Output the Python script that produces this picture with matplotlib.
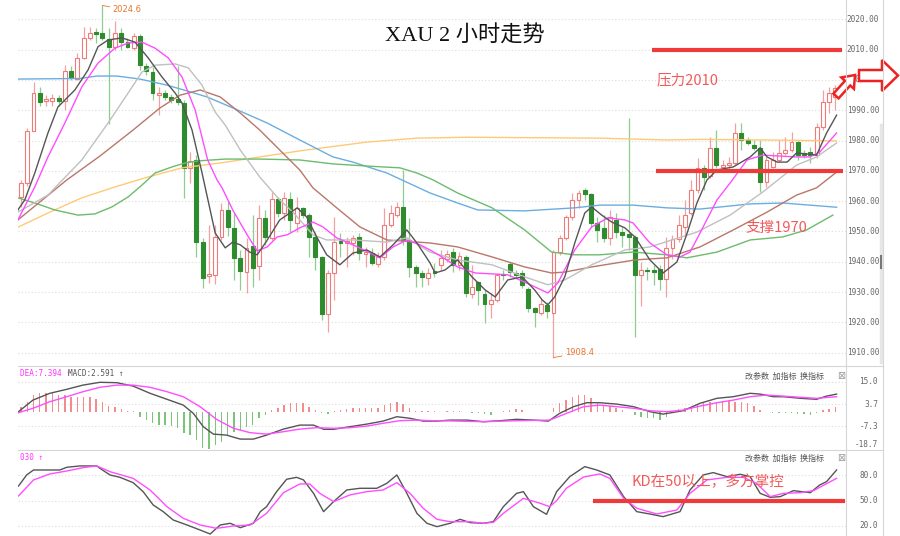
import matplotlib
matplotlib.use("Agg")
import matplotlib.pyplot as plt
from matplotlib.patches import FancyArrow
import numpy as np

plt.rcParams['font.family'] = ['DejaVu Sans', 'Noto Sans CJK SC']

# 2 hour candles
opens = [1961.4, 1966.0, 1983.2, 1995.7, 1993.0, 1993.2, 1994.0, 1993.1, 2003.0, 2000.3,
         2007.3, 2013.9, 2015.8, 2015.5, 2013.5, 2010.9, 2015.5, 2012.5, 2010.6, 2014.5,
         2004.6, 2002.6, 1995.1, 1995.7, 1994.4, 1993.7, 1992.4, 1971.0, 1973.6, 1946.5,
         1935.3, 1935.6, 1948.2, 1957.1, 1951.2, 1941.3, 1936.6, 1945.2, 1938.6, 1954.5,
         1947.9, 1960.7, 1956.1, 1960.7, 1952.8, 1957.8, 1955.4, 1948.2, 1941.6, 1922.8,
         1936.3, 1946.9, 1946.2, 1946.2, 1948.2, 1942.6, 1942.9, 1939.3, 1941.6, 1952.2,
         1955.4, 1958.1, 1947.2, 1938.3, 1936.3, 1934.7, 1937.0, 1939.0, 1941.0, 1943.2,
         1938.9, 1941.6, 1929.4, 1933.3, 1929.4, 1926.1, 1927.4, 1936.0, 1939.3, 1936.3,
         1936.3, 1931.0, 1924.8, 1923.1, 1925.8, 1923.1, 1943.3, 1947.9, 1954.8, 1960.4,
         1963.7, 1962.4, 1952.8, 1951.1, 1947.9, 1953.8, 1949.8, 1949.2, 1948.2, 1935.7,
         1937.3, 1937.3, 1937.6, 1934.4, 1944.6, 1947.6, 1951.5, 1956.1, 1963.7, 1970.9,
         1968.4, 1977.5, 1971.4, 1972.0, 1972.5, 1982.4, 1980.2, 1978.5, 1977.5, 1966.4,
         1971.4, 1973.6, 1976.0, 1976.9, 1979.6, 1976.0, 1976.3, 1975.2, 1984.6, 1992.8,
         1994.5]
highs = [1967.0, 1984.0, 1999.3, 1997.7, 1995.0, 1995.5, 1995.0, 2005.0, 2004.6, 2008.9,
         2017.5, 2017.5, 2017.2, 2024.6, 2017.2, 2019.5, 2017.2, 2013.9, 2015.5, 2015.2,
         2005.6, 2004.3, 1997.7, 1996.7, 1995.5, 2004.6, 1993.4, 1976.2, 1975.2, 1947.9,
         1952.2, 1952.2, 1959.4, 1960.1, 1956.1, 1943.9, 1947.9, 1955.4, 1958.7, 1957.1,
         1963.0, 1961.4, 1963.0, 1963.0, 1961.4, 1958.1, 1956.1, 1949.8, 1941.9, 1937.3,
         1954.8, 1949.5, 1948.2, 1948.9, 1949.5, 1944.9, 1944.6, 1943.2, 1957.8, 1958.7,
         1959.7, 1970.3, 1954.5, 1939.0, 1937.3, 1938.0, 1939.6, 1943.9, 1943.9, 1944.6,
         1943.2, 1942.3, 1938.9, 1933.7, 1930.7, 1929.7, 1936.3, 1937.3, 1939.9, 1937.3,
         1937.3, 1931.7, 1925.1, 1928.1, 1926.7, 1944.0, 1948.9, 1955.4, 1962.7, 1963.7,
         1964.4, 1962.7, 1954.8, 1955.4, 1957.1, 1956.1, 1951.5, 1987.4, 1948.9, 1939.9,
         1938.3, 1939.0, 1938.9, 1948.3, 1948.9, 1955.4, 1960.4, 1967.0, 1974.3, 1972.0,
         1981.3, 1983.5, 1973.6, 1974.6, 1985.9, 1985.7, 1981.2, 1980.2, 1980.2, 1974.7,
         1976.3, 1980.2, 1981.3, 1982.9, 1980.0, 1976.9, 1978.0, 1985.7, 1996.7, 1997.8,
         1998.5]
lows = [1958.0, 1965.0, 1983.0, 1991.4, 1991.5, 1991.5, 1991.5, 1990.1, 2000.0, 2000.0,
        2006.9, 2013.2, 2012.2, 2013.2, 1985.5, 2009.9, 2009.9, 2010.6, 2009.9, 2003.3,
        2001.7, 1993.4, 1988.4, 1993.4, 1992.4, 1991.7, 1961.1, 1966.0, 1941.6, 1931.4,
        1933.0, 1932.7, 1947.2, 1948.5, 1934.0, 1930.7, 1929.7, 1931.7, 1934.0, 1945.6,
        1947.2, 1954.8, 1953.8, 1949.8, 1949.8, 1954.5, 1941.6, 1937.3, 1920.8, 1916.8,
        1927.4, 1941.6, 1938.3, 1942.3, 1940.6, 1938.3, 1938.9, 1938.3, 1940.6, 1951.5,
        1954.8, 1945.6, 1935.0, 1931.7, 1931.7, 1932.4, 1935.0, 1937.3, 1939.9, 1936.6,
        1937.3, 1928.4, 1928.1, 1925.8, 1919.8, 1921.5, 1926.7, 1934.0, 1935.0, 1934.7,
        1931.4, 1923.4, 1918.5, 1922.4, 1921.5, 1908.4, 1942.3, 1947.2, 1953.8, 1957.8,
        1960.4, 1951.5, 1946.5, 1946.5, 1945.6, 1947.9, 1944.9, 1943.9, 1915.2, 1925.4,
        1934.0, 1932.4, 1930.7, 1928.5, 1941.0, 1946.5, 1949.0, 1955.4, 1962.7, 1963.7,
        1967.5, 1970.9, 1969.6, 1971.0, 1972.0, 1976.9, 1978.5, 1976.9, 1963.1, 1964.8,
        1970.9, 1972.9, 1975.2, 1976.2, 1973.6, 1974.3, 1972.5, 1974.1, 1983.5, 1989.0,
        1990.0]
closes = [1966.0, 1983.2, 1995.7, 1992.7, 1993.6, 1994.0, 1993.0, 2003.0, 2000.7, 2007.3,
          2013.9, 2015.5, 2015.2, 2013.9, 2010.9, 2015.5, 2012.5, 2010.9, 2014.5, 2004.9,
          2003.0, 1995.7, 1995.7, 1994.4, 1993.4, 1992.7, 1971.0, 1973.3, 1946.5, 1934.7,
          1936.0, 1948.2, 1957.1, 1951.5, 1941.3, 1937.0, 1944.6, 1938.0, 1954.5, 1948.2,
          1960.7, 1956.1, 1961.1, 1953.8, 1957.8, 1955.4, 1948.2, 1941.6, 1922.8, 1936.3,
          1946.5, 1946.2, 1946.9, 1947.9, 1942.9, 1943.3, 1939.6, 1941.6, 1952.2, 1956.1,
          1958.1, 1947.2, 1938.3, 1936.3, 1935.0, 1936.3, 1936.3, 1941.3, 1942.6, 1938.9,
          1941.9, 1929.7, 1931.7, 1930.7, 1926.1, 1927.4, 1935.7, 1935.7, 1936.6, 1935.7,
          1932.4, 1924.8, 1923.4, 1926.1, 1923.8, 1943.3, 1947.9, 1954.8, 1960.4, 1962.7,
          1962.4, 1952.8, 1950.5, 1947.9, 1954.8, 1949.8, 1948.9, 1948.2, 1935.7, 1937.3,
          1936.9, 1936.6, 1934.4, 1944.6, 1947.6, 1952.2, 1955.4, 1963.7, 1970.9, 1968.1,
          1977.5, 1972.0, 1972.0, 1972.5, 1982.4, 1980.2, 1979.1, 1977.5, 1966.4, 1973.6,
          1973.6, 1976.0, 1976.9, 1979.6, 1975.2, 1975.2, 1975.2, 1984.6, 1992.8, 1995.6,
          1997.2]

# moving averages (bar number, price)
ma5_x = [-0.5, 0.6, 2.2, 4.3, 5.9, 8.6, 10.7, 12.3, 13.9, 16.1, 18.2, 20.3, 22.5, 24.6, 25.7,
         27.3, 28.9, 31.0, 32.6, 33.8, 35.0, 36.5, 37.7, 39.1, 41.3, 44.1, 45.6, 47.2, 48.8, 50.9,
         53.0, 55.2, 57.3, 59.4, 61.6, 63.2, 65.3, 66.1, 67.7, 69.7, 72.0, 74.1, 75.7, 77.7, 80.0,
         82.0, 83.2, 84.1, 85.2, 86.8, 88.4, 90.0, 91.1, 92.7, 94.3, 96.4, 98.0, 100.4, 102.5, 104.7,
         106.3, 107.9, 109.5, 111.1, 113.7, 116.4, 118.0, 119.1, 120.7, 122.3, 123.8, 125.4, 127.0, 128.6, 130.2]
ma5_y = [1957.1, 1960.4, 1969.3, 1982.5, 1991.1, 1996.7, 2003.3, 2011.0, 2013.2, 2013.9, 2012.5, 2007.3, 2001.0, 1995.7, 1992.4,
         1983.5, 1969.3, 1949.5, 1944.6, 1946.5, 1945.6, 1943.2, 1942.3, 1946.5, 1953.8, 1957.8, 1954.8, 1948.2, 1942.3, 1939.0,
         1942.9, 1943.9, 1941.6, 1945.6, 1950.5, 1946.2, 1939.6, 1936.3, 1937.3, 1940.6, 1935.0, 1930.7, 1928.4, 1934.0, 1935.0,
         1930.7, 1927.4, 1925.8, 1928.4, 1935.0, 1946.2, 1956.1, 1958.1, 1955.4, 1953.1, 1951.2, 1948.2, 1940.6, 1936.3, 1939.9,
         1949.2, 1959.4, 1967.0, 1970.3, 1971.3, 1974.6, 1977.6, 1974.6, 1972.9, 1972.9, 1975.9, 1975.6, 1975.2, 1982.5, 1988.4]
ma10_x = [-0.5, 2.2, 4.3, 7.0, 9.7, 12.3, 15.0, 17.1, 19.3, 21.4, 23.5, 25.7, 27.8, 29.8, 31.3,
          32.1, 33.8, 36.1, 37.7, 39.3, 40.9, 42.5, 44.5, 46.6, 48.2, 50.4, 53.0, 55.7, 57.3, 59.4,
          61.6, 63.7, 65.3, 67.2, 69.7, 72.5, 75.2, 77.7, 80.4, 84.1, 85.7, 88.4, 91.1, 93.7, 96.4,
          97.7, 100.4, 103.1, 105.2, 106.8, 108.4, 111.1, 113.2, 115.9, 118.4, 123.8, 125.9, 127.5, 130.2]
ma10_y = [1953.8, 1964.7, 1974.6, 1985.8, 1997.7, 2005.6, 2010.5, 2012.2, 2012.5, 2010.5, 2007.3, 2001.0, 1990.1, 1973.6, 1967.0,
          1964.4, 1957.1, 1948.9, 1943.6, 1944.9, 1948.2, 1948.9, 1951.2, 1953.1, 1951.5, 1947.9, 1945.6, 1942.9, 1941.3, 1944.9,
          1947.2, 1945.6, 1943.9, 1941.6, 1938.3, 1936.3, 1936.0, 1935.7, 1933.3, 1929.7, 1933.0, 1943.9, 1951.5, 1954.5, 1953.8,
          1952.8, 1946.2, 1942.3, 1941.6, 1943.2, 1949.5, 1960.4, 1966.0, 1973.6, 1975.2, 1974.6, 1974.6, 1976.2, 1982.5]
ma20_x = [-0.5, 4.3, 9.7, 13.9, 17.1, 19.3, 21.4, 24.6, 26.7, 28.9, 31.0, 32.6, 35.0, 38.1, 41.3, 43.4, 46.6, 48.8,
          53.0, 58.4, 61.6, 65.3, 69.7, 75.2, 80.4, 84.1, 86.8, 91.1, 96.4, 100.4, 107.9, 113.2, 118.4, 123.8, 127.0, 130.2]
ma20_y = [1956.4, 1962.0, 1973.6, 1985.8, 1995.7, 2002.6, 2004.9, 2005.3, 2004.0, 1998.3, 1989.4, 1985.1, 1976.9, 1968.0, 1960.4, 1956.4, 1948.9, 1947.2,
          1947.2, 1946.5, 1947.9, 1943.2, 1940.6, 1939.0, 1935.0, 1932.4, 1934.0, 1939.0, 1943.9, 1944.9, 1949.8, 1955.4, 1963.0, 1971.9, 1974.6, 1979.2]
ma30_x = [-0.5, 7.3, 12.6, 17.9, 22.2, 25.4, 28.6, 31.8, 35.0, 38.1, 41.3, 44.5, 46.6, 50.4, 54.1, 58.4,
          65.3, 69.7, 75.2, 80.4, 84.7, 86.8, 91.1, 98.0, 103.1, 108.4, 113.7, 119.1, 123.8, 127.0, 130.2]
ma30_y = [1953.8, 1967.0, 1974.9, 1983.5, 1990.8, 1995.0, 1996.7, 1994.4, 1989.1, 1983.5, 1976.9, 1970.3, 1964.4, 1957.8, 1951.5, 1947.2,
          1946.2, 1944.9, 1941.6, 1938.3, 1936.3, 1936.6, 1938.3, 1940.6, 1941.3, 1944.9, 1950.5, 1956.4, 1962.0, 1964.4, 1969.6]
ma60_x = [-0.5, 2.2, 5.4, 9.1, 11.8, 14.5, 17.1, 19.3, 21.4, 24.1, 26.2, 28.3, 32.6, 38.1, 44.5, 49.8, 55.2,
          60.5, 63.2, 65.8, 69.7, 75.2, 80.4, 84.7, 88.4, 92.4, 97.7, 103.1, 106.3, 111.1, 116.4, 121.6, 125.4, 129.6]
ma60_y = [1961.1, 1959.4, 1957.1, 1955.4, 1955.8, 1958.1, 1961.4, 1965.3, 1969.3, 1971.3, 1972.6, 1973.3, 1973.9, 1973.9, 1973.6, 1972.3, 1971.6,
          1971.0, 1969.3, 1967.0, 1962.7, 1957.8, 1950.5, 1943.2, 1942.3, 1942.3, 1943.2, 1942.3, 1941.3, 1943.2, 1947.2, 1948.2, 1950.5, 1955.4]
ma120_x = [-0.5, 9.4, 12.1, 15.3, 19.0, 23.3, 26.5, 29.7, 33.8, 39.3, 44.5, 49.8, 53.0,
           58.4, 65.3, 69.7, 72.9, 80.4, 88.4, 92.4, 97.7, 103.1, 108.4, 116.4, 121.6, 130.2]
ma120_y = [2000.3, 2000.5, 2001.3, 2001.3, 2000.3, 1998.3, 1996.4, 1994.4, 1990.8, 1985.8, 1980.2, 1974.6, 1972.9,
           1969.3, 1962.7, 1959.4, 1957.1, 1956.8, 1957.8, 1958.7, 1958.7, 1957.8, 1957.4, 1959.1, 1959.4, 1958.0]
ma250_x = [-0.5, 4.3, 9.7, 15.0, 20.3, 25.7, 31.8, 38.1, 44.5, 55.2, 63.2, 71.2, 92.4, 103.1, 108.4, 119.1, 130.2]
ma250_y = [1951.4, 1956.1, 1961.1, 1964.7, 1968.0, 1971.0, 1972.6, 1974.6, 1976.6, 1979.5, 1980.8, 1981.1, 1980.8, 1980.2, 1980.4, 1980.2, 1979.9]

# MACD
macd_hist = [2.5, 5.0, 8.3, 9.2, 9.2, 9.2, 8.3, 8.3, 7.5, 7.5,
             7.5, 7.2, 6.2, 5.0, 2.8, 2.5, 1.2, 0.5, 0.5, -2.5,
             -4.2, -5.8, -6.7, -6.7, -7.2, -8.3, -10.5, -11.7, -14.2, -18.3,
             -18.8, -16.7, -15.0, -11.7, -10.0, -9.2, -7.5, -6.7, -3.3, -1.7,
             0.8, 1.7, 3.3, 4.2, 4.5, 4.2, 2.5, 0.8, -0.8, -1.2,
             0.5, 0.8, 1.2, 1.7, 1.7, 1.7, 1.7, 1.7, 3.3, 4.5,
             5.0, 3.8, 1.7, 0.5, 0.5, 0.5, 0.5, 0.0, 0.5, 0.5,
             0.5, 0.0, -0.5, -0.8, -1.2, -1.7, 0.0, 0.5, 0.8, 1.2,
             0.8, 0.0, 0.0, 0.0, 0.0, 1.7, 4.5, 5.8, 7.5, 8.3,
             8.3, 6.7, 4.5, 3.3, 2.8, 1.7, 0.8, 0.0, -1.7, -2.8,
             -3.3, -3.3, -4.2, -2.5, 0.0, 1.2, 1.7, 2.5, 3.3, 4.5,
             5.0, 5.0, 5.5, 5.5, 5.0, 5.0, 4.2, 2.8, 0.8, 0.0,
             -0.5, -0.5, -0.8, -0.8, -1.2, -1.3, -1.7, -0.8, 0.8, 1.2,
             2.2]
dif_x = [-0.4, 1.9, 4.6, 7.3, 9.9, 12.6, 15.3, 17.9, 20.6, 23.3, 25.9, 27.5, 29.1, 30.7, 32.8, 35.0, 37.1, 39.2, 41.9,
         44.5, 46.7, 48.3, 49.9, 52.5, 55.2, 57.8, 60.0, 62.1, 64.2, 66.4, 68.5, 71.2, 73.8, 76.5, 79.1, 81.8, 84.2, 86.0,
         88.2, 90.3, 92.4, 95.1, 97.8, 100.4, 102.5, 105.7, 108.4, 111.1, 113.7, 116.4, 118.0, 120.1, 121.7, 124.4, 127.0, 128.6, 130.2]
dif_y = [0.0, 5.8, 9.2, 11.2, 13.3, 14.7, 14.5, 12.8, 9.2, 6.2, 3.3, -0.8, -7.5, -11.2, -11.7, -13.7, -13.7, -11.7, -8.7,
         -6.7, -6.7, -8.8, -8.8, -7.5, -6.2, -4.7, -2.5, -3.3, -4.7, -4.7, -4.2, -4.2, -5.0, -4.5, -3.8, -4.2, -4.7, -0.8,
         2.5, 4.5, 4.5, 3.8, 2.5, 0.0, -1.2, 0.5, 4.2, 6.7, 7.5, 9.2, 8.8, 7.5, 7.5, 6.7, 6.2, 7.8, 8.8]
dea_x = [-0.4, 1.9, 4.6, 7.3, 9.9, 12.6, 15.3, 17.9, 20.6, 23.3, 25.9, 28.6, 31.2, 33.9, 36.6, 39.2, 41.9, 44.5, 47.2, 49.9,
         52.5, 55.2, 57.8, 60.5, 63.2, 65.8, 68.5, 73.8, 79.1, 84.4, 87.1, 89.8, 92.4, 95.1, 97.8, 100.4, 103.1, 105.7, 108.4,
         111.1, 113.7, 116.4, 119.0, 121.7, 124.4, 127.0, 130.2]
dea_y = [-0.5, 1.7, 5.0, 7.5, 10.0, 12.2, 13.3, 13.3, 12.2, 10.0, 7.5, 2.5, -3.8, -8.3, -10.5, -11.2, -10.0, -8.7, -8.0, -8.3,
         -8.0, -7.2, -5.8, -4.5, -4.2, -4.5, -4.6, -5.0, -4.5, -4.2, -0.8, 2.5, 3.3, 2.5, 1.7, 0.5, 0.0, 0.8, 2.8,
         4.5, 5.8, 7.5, 8.3, 7.8, 7.2, 6.7, 7.5]

# KD
k_x = [-0.4, 0.9, 2.0, 4.6, 6.2, 7.3, 9.4, 12.1, 12.6, 14.2, 15.8, 17.9, 19.5, 21.1, 22.7, 24.3, 26.5, 28.6, 30.2, 31.8,
       33.4, 35.0, 37.1, 38.2, 39.2, 40.8, 42.4, 44.0, 45.1, 46.7, 48.3, 49.9, 52.0, 54.1, 56.8, 58.4, 60.0, 61.6, 63.2, 64.8,
       66.4, 68.5, 70.1, 71.7, 73.8, 75.4, 77.0, 79.1, 80.2, 81.8, 83.9, 85.5, 87.6, 90.0, 91.9, 94.0, 96.2, 98.3, 100.4, 102.5,
       105.2, 106.8, 108.9, 110.5, 112.7, 114.8, 116.4, 118.0, 119.6, 121.2, 123.3, 126.0, 127.5, 128.6, 130.2]
k_y = [67.4, 80.5, 86.4, 86.4, 86.4, 89.6, 91.2, 91.2, 88.4, 80.5, 77.7, 71.4, 60.7, 44.9, 37.0, 27.1, 21.2, 15.2, 10.5, 21.2,
       23.2, 18.0, 23.2, 37.0, 42.9, 60.7, 75.4, 77.7, 74.6, 58.7, 37.0, 48.9, 62.7, 64.7, 64.7, 70.6, 80.5, 58.7, 35.0, 23.2,
       19.2, 23.2, 27.9, 24.0, 23.2, 25.1, 42.9, 58.7, 60.7, 42.9, 33.8, 60.7, 78.5, 90.4, 86.4, 80.5, 54.8, 37.0, 34.2, 31.1,
       37.0, 62.7, 80.5, 83.3, 78.5, 81.3, 78.5, 58.7, 54.0, 54.8, 61.9, 59.5, 68.6, 72.6, 86.4]
d_x = [-0.4, 2.0, 4.6, 7.3, 9.9, 12.1, 14.2, 17.9, 20.6, 23.3, 25.9, 28.6, 31.2, 33.9, 36.6, 39.2, 41.9, 44.5, 46.1, 47.7,
       49.9, 52.5, 55.2, 57.8, 60.0, 62.1, 64.2, 66.4, 68.5, 71.7, 73.8, 75.4, 77.0, 80.2, 82.9, 84.4, 85.5, 87.1, 89.8, 92.4,
       94.0, 96.2, 98.3, 101.5, 104.7, 106.8, 109.5, 112.7, 115.3, 117.4, 119.6, 121.7, 124.4, 126.5, 130.2]
d_y = [55.6, 74.6, 81.7, 85.2, 89.2, 91.2, 84.4, 76.5, 62.7, 42.9, 29.1, 21.2, 17.2, 20.0, 21.2, 35.0, 59.5, 69.8, 69.8, 58.7,
       48.9, 56.8, 60.7, 62.7, 71.4, 58.7, 41.0, 27.9, 25.1, 25.1, 23.2, 24.3, 35.0, 52.8, 46.9, 42.9, 50.0, 65.0, 78.0, 81.7,
       76.5, 52.8, 41.0, 34.2, 39.0, 58.7, 74.6, 77.7, 77.7, 70.6, 54.8, 58.7, 59.5, 61.9, 76.5]

price_ticks = [2020, 2010, 2000, 1990, 1980, 1970, 1960, 1950, 1940, 1930, 1920, 1910]
macd_ticks = [15.0, 3.7, -7.3, -18.7]
kd_ticks = [80.0, 50.0, 20.0]

W, H = 900, 536
RED = '#f03a3a'
GRID = '#dcdcdc'


def box(l, t, r, b):
    return [l / W, 1 - b / H, (r - l) / W, (b - t) / H]


fig = plt.figure(figsize=(9, 5.36), dpi=100)
ax = fig.add_axes(box(18, 0, 846, 366))
ax2 = fig.add_axes(box(18, 366, 846, 450), sharex=ax)
ax3 = fig.add_axes(box(18, 450, 846, 536), sharex=ax)
for a in (ax, ax2, ax3):
    for s in a.spines.values():
        s.set_visible(False)
    a.tick_params(length=0, labelleft=False, labelbottom=False)
    a.set_xticks([])

# candles
o = np.array(opens)
c = np.array(closes)
x = np.arange(len(o))
up = c >= o
wick_col = np.where(up, '#f3a0a0', '#8fcc8f')
face = np.where(up, 'white', '#2e8b2e')
edge = np.where(up, '#ee7a7a', '#2e8b2e')
ax.vlines(x, lows, highs, colors=wick_col, lw=0.9, zorder=2)
ax.bar(x, np.maximum(np.abs(c - o), 0.35), bottom=np.minimum(o, c), width=0.62,
       color=face, edgecolor=edge, linewidth=0.8, zorder=3)

ax.plot(ma250_x, ma250_y, color='#ffc978', lw=1.0, zorder=4)
ax.plot(ma120_x, ma120_y, color='#6aaee0', lw=1.0, zorder=4)
ax.plot(ma60_x, ma60_y, color='#6dbb6d', lw=1.0, zorder=4)
ax.plot(ma30_x, ma30_y, color='#b9776a', lw=1.0, zorder=4)
ax.plot(ma20_x, ma20_y, color='#c0c0c0', lw=1.0, zorder=4)
ax.plot(ma10_x, ma10_y, color='#ff4dff', lw=1.0, zorder=4)
ax.plot(ma5_x, ma5_y, color='#555555', lw=1.0, zorder=5)

ax.set_xlim(-0.48, 131.7)
ax.set_ylim(1905.6, 2026.4)
ax.set_yticks(price_ticks)
ax.grid(axis='y', ls=(0, (1, 2)), color=GRID, lw=0.8)
for t in price_ticks:
    ax.text(1.0399, t, f'{t:.2f}', transform=ax.get_yaxis_transform(), ha='right', va='center',
            fontsize=5.6, color='#666666', family='DejaVu Sans Mono')

# support / resistance
ax.hlines(2010, 100.7, 131.1, color=RED, lw=3, zorder=6)
ax.hlines(1970, 101.3, 131.3, color=RED, lw=3, zorder=6)
ax.text(101.4, 2000, '压力2010', color='#f25a5a', fontsize=10.5, va='center',
        family=['Noto Sans CJK SC'], zorder=7)
ax.text(115.7, 1951.2, '支撑1970', color='#f25a5a', fontsize=10.5, va='center',
        family=['Noto Sans CJK SC'], zorder=7)

ax.annotate('2024.6', xy=(13, 2024.6), xytext=(14.6, 2023.1), color='#e8762c', fontsize=6,
            va='center', arrowprops=dict(arrowstyle='-', color='#e8762c', lw=0.6, shrinkA=0, shrinkB=0))
ax.annotate('1908.4', xy=(85, 1908.4), xytext=(86.8, 1909.9), color='#e8762c', fontsize=6,
            va='center', arrowprops=dict(arrowstyle='-', color='#e8762c', lw=0.6, shrinkA=0, shrinkB=0))

# MACD panel
hist = np.array(macd_hist)
ax2.bar(x, hist, width=0.22, color=np.where(hist >= 0, '#f08c8c', '#7cc47c'), zorder=2)
ax2.plot(dif_x, dif_y, color='#555555', lw=1.0, zorder=3)
ax2.plot(dea_x, dea_y, color='#ff4dff', lw=1.0, zorder=3)
ax2.set_ylim(-19.15, 22.85)
ax2.set_yticks(macd_ticks[:3])
ax2.grid(axis='y', ls=(0, (1, 2)), color=GRID, lw=0.8)
for t in macd_ticks:
    ax2.text(1.0386, t, f'{t:.1f}', transform=ax2.get_yaxis_transform(), ha='right',
             va='bottom' if t < -10 else 'center', fontsize=5.6, color='#666666', family='DejaVu Sans Mono')

# KD panel
ax3.plot(k_x, k_y, color='#555555', lw=1.0, zorder=3)
ax3.plot(d_x, d_y, color='#ff4dff', lw=1.0, zorder=3)
ax3.set_ylim(8.13, 110.1)
ax3.set_yticks(kd_ticks)
ax3.grid(axis='y', ls=(0, (1, 2)), color=GRID, lw=0.8)
for t in kd_ticks:
    ax3.text(1.0386, t, f'{t:.1f}', transform=ax3.get_yaxis_transform(), ha='right', va='center',
             fontsize=5.6, color='#666666', family='DejaVu Sans Mono')
ax3.hlines(50, 91.3, 131.5, color=RED, lw=3, zorder=6)
ax3.text(97.5, 72.2, 'KD在50以上，多方掌控', color='#f25a5a', fontsize=10.5, va='center',
         family=['Noto Sans CJK SC'], zorder=7)

# title and panel labels
fig.text(465 / W, 1 - 36 / H, 'XAU 2 小时走势', ha='center', va='center', fontsize=16,
         family=['Liberation Serif', 'Noto Sans CJK SC'], color='#111111')
fig.text(20 / W, 1 - 374 / H, 'DEA:7.394 ↑', fontsize=5.5, color='#ff33ff', va='center', family='DejaVu Sans Mono')
fig.text(68 / W, 1 - 374 / H, 'MACD:2.591 ↑', fontsize=5.5, color='#555555', va='center', family='DejaVu Sans Mono')
fig.text(20 / W, 1 - 458 / H, '030 ↑', fontsize=5.5, color='#ff33ff', va='center', family='DejaVu Sans Mono')
for yy in (376, 458):
    fig.text(745 / W, 1 - yy / H, '改参数  加指标  换指标', fontsize=5.8, color='#555555', va='center',
             family=['Noto Sans CJK SC'])
    fig.text(837 / W, 1 - yy / H, '⊠', fontsize=7, color='#999999', va='center', family=['DejaVu Sans'])

# frame lines and arrows drawn in pixel space
ov = fig.add_axes([0, 0, 1, 1])
ov.set_xlim(0, W)
ov.set_ylim(H, 0)
ov.axis('off')
ov.patch.set_alpha(0)
ov.set_zorder(10)
ov.plot([18, 883], [366, 366], color='#d6d6d6', lw=0.8)
ov.plot([18, 883], [450, 450], color='#d6d6d6', lw=0.8)
ov.plot([846, 846], [0, 536], color='#d6d6d6', lw=0.8)
ov.plot([883, 883], [0, 536], color='#d6d6d6', lw=0.8)
ov.plot([880.5, 880.5], [125, 362], color='#e6e6e6', lw=2.5)
ov.plot([880.5, 880.5], [256, 268], color='#777777', lw=1.5)
ov.add_patch(FancyArrow(859, 75.5, 39, 0, width=11, head_width=31, head_length=16,
                        length_includes_head=True, fc='white', ec='#ee2222', lw=1.8))
ov.add_patch(FancyArrow(836, 96, 19, -21, width=7, head_width=17, head_length=11,
                        length_includes_head=True, fc='white', ec='#ee2222', lw=1.8))

fig.savefig('out.png', dpi=100, facecolor='white')
